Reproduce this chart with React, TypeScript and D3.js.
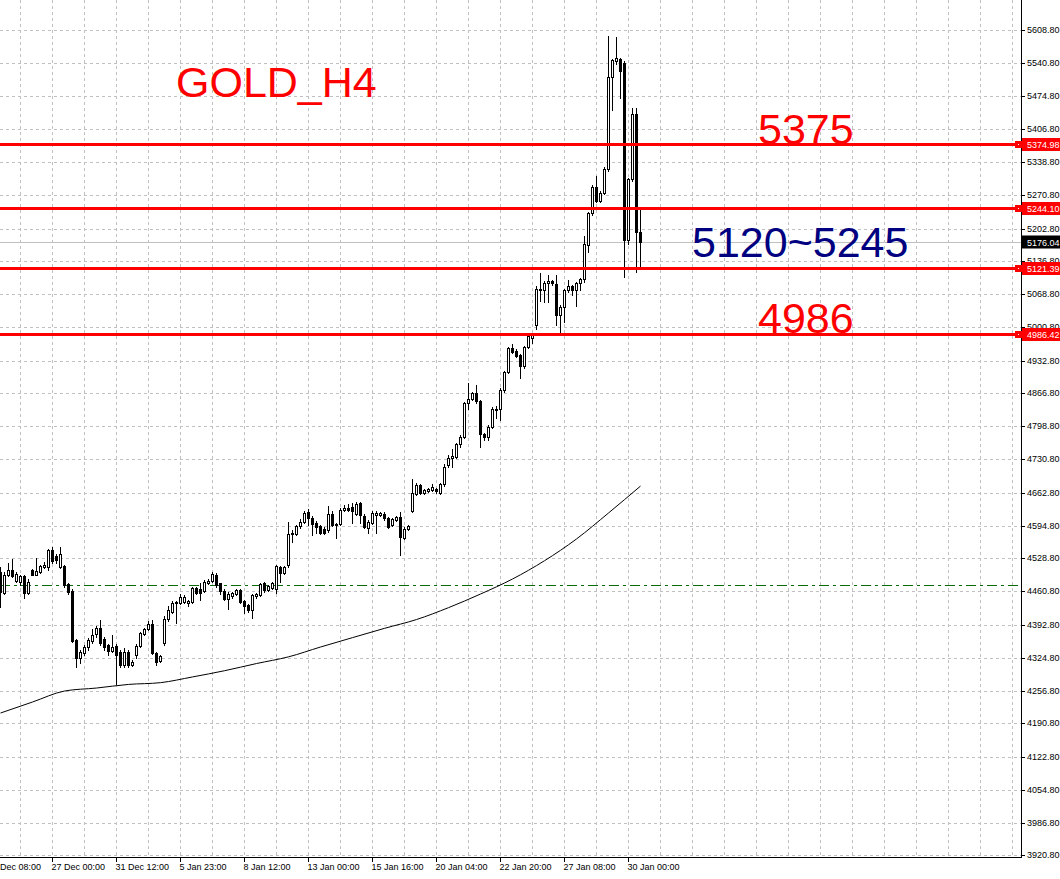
import * as d3 from "d3";

// H4 candles, oldest first: [open, high, low, close]
const candles: [number, number, number, number][] = [
  [4501, 4510, 4429, 4460], [4458, 4500, 4455, 4494], [4494, 4518, 4492, 4504], [4504, 4526, 4490, 4492],
  [4482, 4500, 4480, 4497], [4480, 4495, 4473, 4492], [4492, 4494, 4448, 4458], [4458, 4485, 4456, 4480],
  [4504, 4506, 4494, 4495], [4495, 4528, 4494, 4503], [4501, 4515, 4499, 4512], [4510, 4521, 4508, 4514],
  [4510, 4548, 4504, 4546], [4545, 4552, 4519, 4523], [4533, 4538, 4518, 4524], [4511, 4552, 4509, 4537],
  [4512, 4514, 4470, 4473], [4475, 4477, 4455, 4460], [4461, 4466, 4358, 4359], [4361, 4363, 4305, 4325],
  [4325, 4340, 4315, 4337], [4335, 4350, 4330, 4347], [4346, 4365, 4340, 4361], [4360, 4383, 4355, 4371],
  [4373, 4390, 4368, 4385], [4385, 4403, 4350, 4354], [4364, 4368, 4340, 4347], [4350, 4352, 4330, 4339],
  [4339, 4371, 4337, 4347], [4349, 4352, 4272, 4330], [4337, 4340, 4305, 4310], [4310, 4345, 4305, 4337],
  [4337, 4340, 4305, 4310], [4310, 4320, 4307, 4317], [4330, 4352, 4325, 4349], [4349, 4378, 4347, 4375],
  [4373, 4386, 4371, 4383], [4383, 4400, 4381, 4394], [4394, 4403, 4333, 4335], [4335, 4337, 4310, 4317],
  [4318, 4330, 4316, 4328], [4354, 4410, 4350, 4405], [4405, 4430, 4400, 4422], [4419, 4441, 4417, 4437],
  [4439, 4441, 4396, 4437], [4437, 4456, 4435, 4450], [4439, 4454, 4437, 4450], [4437, 4443, 4431, 4441],
  [4439, 4470, 4437, 4467], [4467, 4470, 4455, 4458], [4465, 4477, 4443, 4458], [4461, 4484, 4459, 4480],
  [4478, 4485, 4476, 4482], [4482, 4500, 4480, 4497], [4494, 4498, 4470, 4473], [4477, 4478, 4455, 4461],
  [4461, 4465, 4443, 4446], [4446, 4460, 4424, 4456], [4451, 4460, 4448, 4458], [4456, 4466, 4453, 4463],
  [4463, 4466, 4437, 4439], [4441, 4443, 4416, 4431], [4433, 4435, 4419, 4422], [4422, 4456, 4407, 4454],
  [4451, 4458, 4448, 4456], [4454, 4478, 4452, 4475], [4477, 4480, 4460, 4463], [4463, 4474, 4461, 4471],
  [4467, 4479, 4465, 4477], [4465, 4515, 4458, 4512], [4511, 4513, 4480, 4499], [4499, 4512, 4497, 4510],
  [4514, 4603, 4510, 4578], [4578, 4586, 4562, 4581], [4578, 4597, 4575, 4594], [4594, 4608, 4590, 4603],
  [4603, 4624, 4600, 4620], [4622, 4630, 4596, 4610], [4610, 4614, 4576, 4598], [4601, 4605, 4580, 4593],
  [4594, 4597, 4578, 4581], [4589, 4592, 4578, 4581], [4587, 4635, 4582, 4619], [4619, 4625, 4594, 4596],
  [4598, 4600, 4569, 4597], [4598, 4632, 4596, 4628], [4628, 4637, 4625, 4632], [4632, 4640, 4625, 4628],
  [4634, 4641, 4600, 4624], [4619, 4643, 4616, 4639], [4641, 4644, 4601, 4617], [4615, 4618, 4590, 4593],
  [4591, 4606, 4580, 4603], [4601, 4624, 4598, 4620], [4617, 4624, 4580, 4620], [4617, 4623, 4614, 4620],
  [4619, 4622, 4607, 4610], [4610, 4612, 4591, 4593], [4596, 4610, 4594, 4608], [4607, 4614, 4605, 4612],
  [4612, 4622, 4535, 4571], [4569, 4592, 4567, 4589], [4589, 4597, 4587, 4594], [4624, 4690, 4622, 4662],
  [4660, 4682, 4657, 4678], [4678, 4680, 4660, 4662], [4661, 4670, 4659, 4668], [4666, 4673, 4664, 4671],
  [4668, 4680, 4666, 4675], [4671, 4673, 4662, 4665], [4662, 4683, 4660, 4680], [4680, 4722, 4677, 4716],
  [4719, 4740, 4716, 4733], [4733, 4751, 4716, 4737], [4736, 4765, 4734, 4762], [4762, 4780, 4755, 4777],
  [4777, 4848, 4775, 4845], [4845, 4887, 4833, 4855], [4855, 4869, 4853, 4866], [4866, 4883, 4846, 4849],
  [4849, 4852, 4755, 4782], [4782, 4785, 4771, 4777], [4777, 4800, 4771, 4796], [4796, 4838, 4794, 4833],
  [4834, 4840, 4815, 4832], [4833, 4876, 4811, 4872], [4872, 4912, 4869, 4910], [4910, 4960, 4907, 4958],
  [4958, 4967, 4948, 4951], [4953, 4956, 4940, 4943], [4944, 4946, 4898, 4921], [4921, 4962, 4918, 4960],
  [4960, 4986, 4958, 4983], [4978, 4990, 4968, 4985], [5005, 5085, 4997, 5080], [5080, 5111, 5055, 5076],
  [5078, 5096, 5053, 5092], [5091, 5108, 5053, 5095], [5095, 5098, 5088, 5091], [5090, 5108, 5005, 5026],
  [5026, 5046, 4990, 5043], [5043, 5080, 5012, 5077], [5076, 5097, 5073, 5085], [5085, 5088, 5067, 5076],
  [5076, 5094, 5045, 5091], [5091, 5102, 5076, 5099], [5099, 5188, 5094, 5172], [5170, 5237, 5155, 5234],
  [5234, 5292, 5231, 5288], [5288, 5311, 5257, 5260], [5260, 5279, 5257, 5276], [5276, 5329, 5273, 5324],
  [5324, 5597, 5320, 5513], [5513, 5550, 5445, 5547], [5545, 5595, 5540, 5551], [5549, 5552, 5469, 5524],
  [5541, 5545, 5104, 5179], [5179, 5306, 5172, 5304], [5304, 5449, 5300, 5438], [5438, 5449, 5114, 5195],
  [5195, 5245, 5125, 5176.04],
];

// moving average, read every 8 bars
const maIndex = [0, 8, 16, 24, 32, 40, 48, 56, 64, 72, 80, 88, 96, 104, 112, 120, 128, 136, 144, 152, 160];
const maValues = [
  4211.8, 4234.3, 4256.8, 4262.9, 4270.3, 4273.9, 4285.6, 4298.3, 4313.0, 4326.7, 4346.8,
  4366.0, 4385.0, 4403.0, 4427.3, 4455.2, 4485.9, 4523.3, 4567.8, 4620.9, 4676.0,
];

const priceTicks = [
  5676.8, 5608.8, 5540.8, 5474.8, 5406.8, 5338.8, 5270.8, 5202.8, 5136.8, 5068.8, 5000.8, 4932.8,
  4866.8, 4798.8, 4730.8, 4662.8, 4594.8, 4528.8, 4460.8, 4392.8, 4324.8, 4256.8, 4190.8, 4122.8,
  4054.8, 3986.8, 3920.8,
];

const timeTickIndex = [-3, 13, 29, 45, 61, 77, 93, 109, 125, 141, 157];
const timeTickLabels = [
  "23 Dec 08:00", "27 Dec 00:00", "31 Dec 12:00", "5 Jan 23:00", "8 Jan 12:00", "13 Jan 00:00",
  "15 Jan 16:00", "20 Jan 04:00", "22 Jan 20:00", "27 Jan 08:00", "30 Jan 00:00",
];

const levelPrices = [5374.98, 5244.1, 5121.39, 4986.42];
const bidPrice = 5176.04;
const dashDotPrice = 4473;

const W = 1060;
const H = 879;
const RIGHT = 1021.5;
const BOTTOM = 857.5;
const FONT = "'Liberation Sans', Arial, sans-serif";

export default function App() {
  const x = d3.scaleLinear().domain([0, 255]).range([0.5, 1020.5]);
  const y = d3.scaleLinear().domain([3920.8, 5608.8]).range([855.3, 30]);
  const py = (p: number) => Math.round(y(p)) + 0.5;

  const gridX: number[] = [];
  for (let k = 5; x(k) < RIGHT; k += 8) gridX.push(x(k));

  const maLine = d3
    .line<number>()
    .x((_, i) => x(maIndex[i]))
    .y(d => y(d))
    .curve(d3.curveMonotoneX);

  return (
    <div style={{ position: "absolute", left: 0, top: 0 }}>
      <svg width={W} height={H} style={{ display: "block", background: "#fff" }} fontFamily={FONT}>
        <defs>
          <clipPath id="plot">
            <rect x={0} y={0} width={RIGHT} height={BOTTOM} />
          </clipPath>
        </defs>
        <rect width={W} height={H} fill="#fff" />

        <g clipPath="url(#plot)">
          {/* grid */}
          <g stroke="#c0c0c0" strokeWidth={1} strokeDasharray="3,3" shapeRendering="crispEdges">
            {gridX.map((gx, i) => (
              <line key={`gx${i}`} x1={gx} x2={gx} y1={0} y2={BOTTOM} />
            ))}
            {priceTicks.map((p, i) => (
              <line key={`gy${i}`} x1={0} x2={RIGHT} y1={py(p)} y2={py(p)} />
            ))}
          </g>

          {/* bid line */}
          <line x1={0} x2={RIGHT} y1={py(bidPrice)} y2={py(bidPrice)} stroke="#c0c0c0" shapeRendering="crispEdges" />

          {/* dash-dot level */}
          <line
            x1={0}
            x2={RIGHT}
            y1={py(dashDotPrice)}
            y2={py(dashDotPrice)}
            stroke="#0a6a0a"
            strokeDasharray="10,4,3,4"
            shapeRendering="crispEdges"
          />

          {/* moving average */}
          <path d={maLine(maValues) ?? ""} fill="none" stroke="#000" strokeWidth={1} />

          {/* candles */}
          <g shapeRendering="crispEdges">
            {candles.map(([o, h, l, c], i) => {
              const cx = x(i);
              const top = Math.round(y(Math.max(o, c)));
              const bot = Math.round(y(Math.min(o, c)));
              const bull = c >= o;
              return (
                <g key={i}>
                  <line x1={cx} x2={cx} y1={Math.round(y(h))} y2={Math.round(y(l)) + 1} stroke="#000" />
                  <rect
                    x={cx - 1}
                    y={top + 0.5}
                    width={2}
                    height={Math.max(bot - top, 1)}
                    fill={bull ? "#fff" : "#000"}
                    stroke="#000"
                    strokeWidth={1}
                  />
                </g>
              );
            })}
          </g>

          {/* horizontal levels */}
          {levelPrices.map((p, i) => (
            <rect key={`lv${i}`} x={0} y={Math.round(y(p)) - 1} width={1016} height={3} fill="#ff0000" />
          ))}
        </g>

        {/* axes */}
        <g stroke="#000" shapeRendering="crispEdges">
          <line x1={RIGHT} x2={RIGHT} y1={0} y2={BOTTOM} />
          <line x1={0} x2={RIGHT} y1={BOTTOM} y2={BOTTOM} />
          {priceTicks.map((p, i) => (
            <line key={`pt${i}`} x1={RIGHT} x2={RIGHT + 3} y1={py(p)} y2={py(p)} />
          ))}
          {timeTickIndex.map((k, i) => (
            <line key={`tt${i}`} x1={x(k)} x2={x(k)} y1={BOTTOM} y2={BOTTOM + 4} />
          ))}
        </g>

        <g fontSize={9} fill="#000">
          {priceTicks.map((p, i) => (
            <text key={`pl${i}`} x={1027} y={y(p)} dy="0.35em">
              {p.toFixed(2)}
            </text>
          ))}
          {timeTickIndex.map((k, i) => (
            <text key={`tl${i}`} x={x(k) - 1} y={870}>
              {timeTickLabels[i]}
            </text>
          ))}
        </g>

        {/* level markers and price boxes */}
        {levelPrices.map((p, i) => {
          const ly = Math.round(y(p)) + 0.5;
          return (
            <g key={`lb${i}`}>
              <rect x={1015} y={ly - 3.5} width={7} height={7} fill="#ff0000" />
              <rect x={1018} y={ly - 0.5} width={1} height={1} fill="#fff" />
              <rect x={1022} y={ly - 6.5} width={40} height={13} fill="#ff0000" />
              <text x={1027} y={ly} dy="0.35em" fontSize={9} fill="#fff">
                {p.toFixed(2)}
              </text>
            </g>
          );
        })}
        <g>
          <rect x={1022} y={py(bidPrice) - 7} width={40} height={13} fill="#000" />
          <text x={1027} y={py(bidPrice)} dy="0.35em" fontSize={9} fill="#fff">
            {bidPrice.toFixed(2)}
          </text>
        </g>

        {/* annotations */}
        <g fontSize={43}>
          <text x={176} y={97} fill="#ff0000">
            GOLD_H4
          </text>
          <text x={758} y={144} fill="#ff0000">
            5375
          </text>
          <text x={692} y={257} fill="#000080">
            5120~5245
          </text>
          <text x={758} y={333} fill="#ff0000">
            4986
          </text>
        </g>
      </svg>
    </div>
  );
}
